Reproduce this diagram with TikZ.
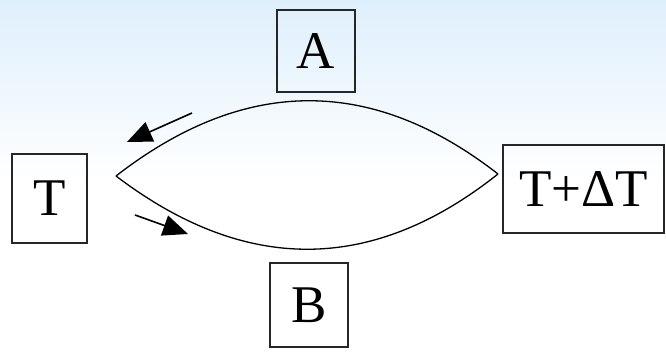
\documentclass[tikz,border=0pt]{standalone}
\usepackage{fontspec}
\setmainfont{Liberation Serif}
\usetikzlibrary{arrows.meta}
\definecolor{bgtop}{RGB}{222,239,252}
\begin{document}
\begin{tikzpicture}[x=1pt,y=1pt,
  boxnode/.style={draw=black!85,line width=1.5pt,inner sep=0pt,font=\fontsize{53}{60}\selectfont},
  lens/.style={draw=black,line width=1.3pt},
  flow/.style={draw=black,line width=1.6pt,-{Triangle[length=25pt,width=21pt]}}]
\useasboundingbox (0,0) rectangle (666,352);
\shade[top color=bgtop,bottom color=white] (0,352) rectangle (666,170);
\fill[white] (0,0) rectangle (666,170.5);
% boxes (image y flipped: y = 352 - y_img)
\node[boxnode,minimum width=78pt,minimum height=82pt] (A) at (316,301) {A};
\node[boxnode,minimum width=75pt,minimum height=89pt] (T) at (49.5,153.5) {T};
\node[boxnode,minimum width=161pt,minimum height=88pt] (TdT) at (583.5,163) {T+ΔT};
\node[boxnode,minimum width=78pt,minimum height=84pt] (B) at (309,47) {B};
% lens
\coordinate (L) at (116,176);
\coordinate (R) at (498,178);
\draw[lens] (L) .. controls (245,276) and (372,276) .. (R);
\draw[lens] (L) .. controls (245,78) and (372,78) .. (R);
% arrows
\coordinate (a1) at (192,239);
\coordinate (a2) at (127,210);
\coordinate (b1) at (135,137);
\coordinate (b2) at (188,118);
\draw[flow] (a1) -- (a2);
\draw[flow] (b1) -- (b2);
\end{tikzpicture}
\end{document}
